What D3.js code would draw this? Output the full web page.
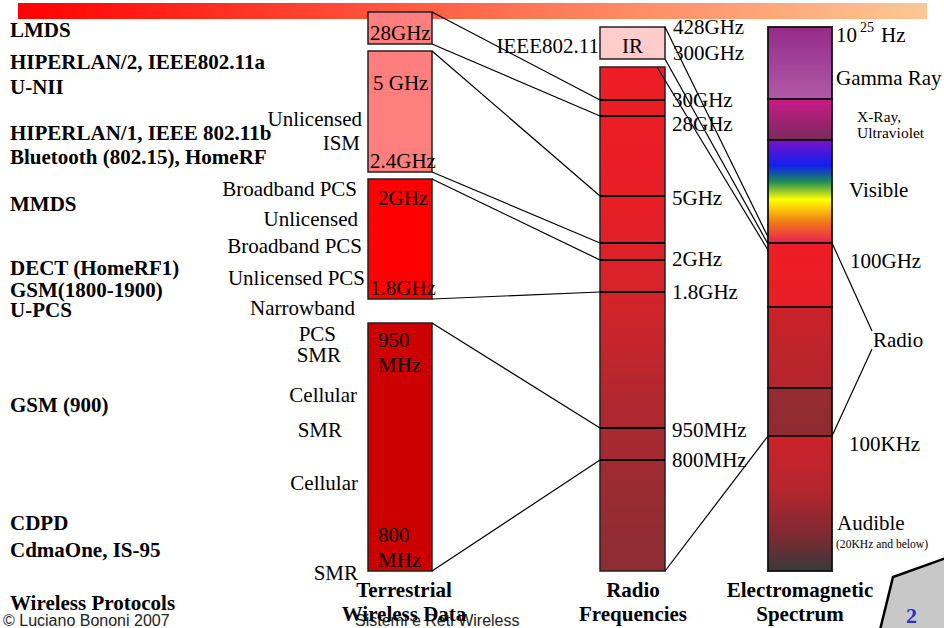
<!DOCTYPE html>
<html><head><meta charset="utf-8">
<script src="https://cdn.jsdelivr.net/npm/d3@7"></script>
<style>html,body{margin:0;padding:0;background:#fff;overflow:hidden}</style>
</head><body>
<svg id="c" width="944" height="628"></svg>
<script>
// ================= DATA =================
const protocols = ["LMDS","HIPERLAN/2, IEEE802.11a","U-NII","HIPERLAN/1, IEEE 802.11b","Bluetooth (802.15), HomeRF","MMDS","DECT (HomeRF1)","GSM(1800-1900)","U-PCS","GSM (900)","CDPD","CdmaOne, IS-95","Wireless Protocols"];
const services = ["Unlicensed","ISM","Broadband PCS","Unlicensed","Broadband PCS","Unlicensed PCS","Narrowband","PCS","SMR","Cellular","SMR","Cellular","SMR"];
// terrestrial wireless data bands (Hz)
const terrHigh = [3e10, 5e9, 2e9, 9.5e8];
const terrLow  = [2.8e10, 2.4e9, 1.8e9, 8e8];
const terrTopLabels = [[], ["5 GHz"], ["2GHz"], ["950","MHz"]];
const terrBottomLabels = [["28GHz"], ["2.4GHz"], ["1.8GHz"], ["800","MHz"]];
// radio frequencies column marks (Hz)
const radioMarks  = [3e11, 3e10, 2.8e10, 5e9, 2.4e9, 2e9, 1.8e9, 9.5e8, 8e8, 1e5];
const radioLabels = ["", "30GHz", "28GHz", "5GHz", "", "2GHz", "1.8GHz", "950MHz", "800MHz", ""];
const irBand = [4.28e11, 3e11];
const irLabels = ["428GHz", "300GHz"];
// electromagnetic spectrum band edges (Hz)
const emEdges = [1e25, 3e16, 7.5e14, 1e11, 1e9, 1e7, 1e5, 1];
const emBandNames = ["gamma", "xray", "visible", "radio1", "radio2", "radio3", "audible"];
const titles = [["Terrestrial","Wireless Data"], ["Radio","Frequencies"], ["Electromagnetic","Spectrum"]];

// ================= LAYOUT =================
const svg = d3.select("#c");
const defs = svg.append("defs");
const SERIF = "'Liberation Serif','Times New Roman',serif";
const SANS = "'Liberation Sans',Arial,sans-serif";
const FS = 21;
const TERR = {x: 368, w: 64}, RADIO = {x: 600, w: 65}, EM = {x: 768, w: 64};

const terrDomain = d3.merge(terrHigh.map((h, i) => [h, terrLow[i]]));
const terrY  = d3.scaleLog().domain(terrDomain).range([12, 44, 51, 172, 179, 299, 323, 571]);
const radioY = d3.scaleLog().domain(radioMarks).range([67, 100, 116, 196, 243, 260, 292, 428, 460, 571]);
const irY    = d3.scaleLog().domain(irBand).range([27, 59]);
const emY    = d3.scaleLog().domain(emEdges).range([27, 99, 140, 243, 307, 388, 436, 571]);

function grad(id, stops, x2 = 0, y2 = 1) {
  const g = defs.append("linearGradient").attr("id", id)
    .attr("x1", 0).attr("y1", 0).attr("x2", x2).attr("y2", y2);
  stops.forEach(([o, c]) => g.append("stop").attr("offset", o).attr("stop-color", c));
}
grad("topbar", [[0, "#ff0000"], [0.5, "#ff6a4c"], [1, "#ffc892"]], 1, 0);
grad("radio", [[0, "#ee1c25"], [0.27, "#e81e26"], [0.46, "#d4232a"], [0.66, "#b2272e"], [0.86, "#982c32"], [1, "#8c2d33"]]);
grad("gamma", [[0, "#952a8a"], [1, "#b05aa8"]]);
grad("xray", [[0, "#ca1a8a"], [1, "#7a2a5c"]]);
grad("visible", [[0, "#7c10c8"], [0.25, "#1020f0"], [0.4, "#1a8a5a"], [0.58, "#ffff00"], [0.8, "#f07818"], [1, "#e82050"]]);
grad("radio1", [[0, "#ee1c25"], [1, "#e81e26"]]);
grad("radio2", [[0, "#cd2129"], [1, "#b2262c"]]);
grad("radio3", [[0, "#952b31"], [1, "#8f2c31"]]);
grad("audible", [[0, "#cd222c"], [0.4, "#b5252d"], [0.75, "#7a2a32"], [1, "#3a393c"]]);

// top decorative bar
svg.append("rect").attr("x", 18).attr("y", 3).attr("width", 909).attr("height", 16).attr("fill", "url(#topbar)");

// ---------- terrestrial bars ----------
const terrFill = ["#ff7f7f", "#ff7f7f", "#ff0000", "#cc0000"];
terrHigh.forEach((h, i) => {
  svg.append("rect").attr("x", TERR.x).attr("y", terrY(h)).attr("width", TERR.w)
    .attr("height", terrY(terrLow[i]) - terrY(h)).attr("fill", terrFill[i])
    .attr("stroke", "#222").attr("stroke-width", 1.5);
});
const tl = svg.append("g").attr("font-family", SERIF).attr("font-size", FS).attr("fill", "#000");
const topOff = [0, 39, 26, 24];
const topX = [0, 373, 378, 378];
terrTopLabels.forEach((ls, i) => ls.forEach((t, j) =>
  tl.append("text").attr("x", topX[i]).attr("y", terrY(terrHigh[i]) + topOff[i] + j * 25).text(t)));
const botX = [370, 370, 370, 378];
terrBottomLabels.forEach((ls, i) => ls.forEach((t, j) =>
  tl.append("text").attr("x", botX[i]).attr("y", terrY(terrLow[i]) - 4 - (ls.length - 1 - j) * 25).text(t)));

// ---------- radio column ----------
svg.append("rect").attr("x", RADIO.x).attr("y", irY(irBand[0])).attr("width", RADIO.w)
  .attr("height", irY(irBand[1]) - irY(irBand[0])).attr("fill", "#ffcccc").attr("stroke", "#222").attr("stroke-width", 1.5);
svg.append("rect").attr("x", RADIO.x).attr("y", radioY(radioMarks[0])).attr("width", RADIO.w)
  .attr("height", radioY(radioMarks[radioMarks.length - 1]) - radioY(radioMarks[0]))
  .attr("fill", "url(#radio)").attr("stroke", "#222").attr("stroke-width", 1.5);
radioMarks.slice(1, -1).forEach(f => svg.append("line").attr("x1", RADIO.x).attr("x2", RADIO.x + RADIO.w)
  .attr("y1", radioY(f)).attr("y2", radioY(f)).attr("stroke", "#000").attr("stroke-width", 2.2));

const rl = svg.append("g").attr("font-family", SERIF).attr("font-size", FS).attr("fill", "#000");
const radioDy = [0, 7, 15, 9, 0, 6, 7, 9, 7, 0];
radioLabels.forEach((t, i) => { if (t) rl.append("text").attr("x", 672).attr("y", radioY(radioMarks[i]) + radioDy[i]).text(t); });
rl.append("text").attr("x", 673).attr("y", irY(irBand[0]) + 7).text(irLabels[0]);
rl.append("text").attr("x", 673).attr("y", irY(irBand[1]) + 1).text(irLabels[1]);
rl.append("text").attr("x", RADIO.x + RADIO.w / 2).attr("y", 53).attr("text-anchor", "middle").text("IR");
rl.append("text").attr("x", 599).attr("y", 53).attr("text-anchor", "end").text("IEEE802.11");

// ---------- EM column ----------
emBandNames.forEach((n, i) => {
  svg.append("rect").attr("x", EM.x).attr("y", emY(emEdges[i])).attr("width", EM.w)
    .attr("height", emY(emEdges[i + 1]) - emY(emEdges[i])).attr("fill", `url(#${n})`)
    .attr("stroke", "#111").attr("stroke-width", 1.8);
});
const el = svg.append("g").attr("font-family", SERIF).attr("font-size", FS).attr("fill", "#000");
const t25 = el.append("text").attr("x", 836).attr("y", 42);
t25.append("tspan").text("10");
t25.append("tspan").attr("font-size", 14).attr("dx", 3).attr("dy", -10).text("25");
t25.append("tspan").attr("dx", 7).attr("dy", 10).text("Hz");
el.append("text").attr("x", 836).attr("y", 85).text("Gamma Ray");
el.append("text").attr("x", 857).attr("y", 122).attr("font-size", 15.5).text("X-Ray,");
el.append("text").attr("x", 857).attr("y", 138).attr("font-size", 15.5).text("Ultraviolet");
el.append("text").attr("x", 849).attr("y", 197).text("Visible");
el.append("text").attr("x", 850).attr("y", 268).text("100GHz");
el.append("text").attr("x", 873).attr("y", 347).text("Radio");
el.append("text").attr("x", 849).attr("y", 451).text("100KHz");
el.append("text").attr("x", 837).attr("y", 530).text("Audible");
el.append("text").attr("x", 836).attr("y", 548).attr("font-size", 11.6).text("(20KHz and below)");

// ---------- connectors (drawn over the columns) ----------
const lines = svg.append("g").attr("stroke", "#000").attr("stroke-width", 1.2).attr("fill", "none");
terrDomain.forEach(f => {
  lines.append("line").attr("x1", TERR.x + TERR.w).attr("y1", terrY(f))
    .attr("x2", RADIO.x).attr("y2", radioY(f));
});
const toEm = [
  {x: RADIO.x + RADIO.w, y: irY(irBand[0]), d: -6},
  {x: RADIO.x + RADIO.w, y: irY(irBand[1]), d: 1},
  {x: RADIO.x + RADIO.w - 8, y: radioY(radioMarks[0]), d: 7}
];
toEm.forEach(p => lines.append("line").attr("x1", p.x).attr("y1", p.y).attr("x2", EM.x).attr("y2", emY(1e11) + p.d));
lines.append("line").attr("x1", RADIO.x + RADIO.w).attr("y1", radioY(1e5)).attr("x2", EM.x).attr("y2", emY(1e5));
lines.append("line").attr("x1", EM.x + EM.w).attr("y1", emY(1e11)).attr("x2", 872).attr("y2", 331);
lines.append("line").attr("x1", EM.x + EM.w).attr("y1", emY(1e5)).attr("x2", 872).attr("y2", 349);

// ---------- left labels ----------
const protoY = [37, 69, 94, 140, 164, 211, 275, 297, 317, 412, 530, 557, 610];
const pl = svg.append("g").attr("font-family", SERIF).attr("font-size", FS).attr("font-weight", "bold");
protocols.forEach((t, i) => pl.append("text").attr("x", 10).attr("y", protoY[i]).text(t));
const servX = [362, 360, 357, 358, 362, 365, 355, 336, 341, 357, 342, 358, 358];
const servY = [126, 150, 196, 226, 253, 285, 315, 341, 362, 402, 437, 490, 580];
const sl = svg.append("g").attr("font-family", SERIF).attr("font-size", FS).attr("text-anchor", "end");
services.forEach((t, i) => sl.append("text").attr("x", servX[i]).attr("y", servY[i]).text(t));

// ---------- footer ----------
svg.append("text").attr("x", 355).attr("y", 626).attr("font-family", SANS).attr("font-size", 16).attr("fill", "#222").text("Sistemi e Reti Wireless");
svg.append("text").attr("x", 3).attr("y", 626).attr("font-family", SANS).attr("font-size", 16).attr("fill", "#222").text("© Luciano Bononi 2007");

// ---------- column titles ----------
const titleX = [404, 633, 800];
const ttl = svg.append("g").attr("font-family", SERIF).attr("font-size", FS).attr("font-weight", "bold").attr("text-anchor", "middle");
titles.forEach((ls, i) => ls.forEach((t, j) => ttl.append("text").attr("x", titleX[i]).attr("y", 597 + j * 24).text(t)));

// ---------- page curl + number ----------
svg.append("path").attr("d", "M880,630 L893,577 L946,558 L946,630 Z").attr("fill", "#c8c8c8").attr("stroke", "#000").attr("stroke-width", 2.5);
svg.append("text").attr("x", 906).attr("y", 623).attr("font-family", SERIF).attr("font-weight", "bold").attr("font-size", 22).attr("fill", "#2d2dcf").text("2");
</script>
</body></html>
